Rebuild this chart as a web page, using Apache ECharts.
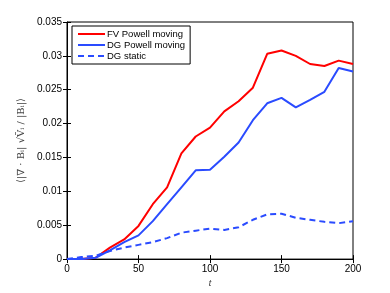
<!DOCTYPE html>
<html><head><meta charset="utf-8">
<script src="https://cdn.jsdelivr.net/npm/echarts@6/dist/echarts.min.js"></script>
<style>html,body{margin:0;padding:0;background:#fff}#c{width:390px;height:293px}</style>
</head><body><div id="c"></div>
<script>
const tValues = [0,10,20,30,40,50,60,70,80,90,100,110,120,130,140,150,160,170,180,190,200];
const fvPowellMoving = [0,0,0.0002,0.0017,0.0029,0.0049,0.0081,0.0106,0.0156,0.0181,0.0194,0.0218,0.0233,0.0253,0.0303,0.0308,0.0300,0.0288,0.0285,0.0293,0.0288];
const dgPowellMoving = [0,0,0.0002,0.0013,0.0025,0.0035,0.0056,0.0081,0.0106,0.0131,0.0132,0.0151,0.0172,0.0205,0.0230,0.0238,0.0224,0.0235,0.0247,0.0282,0.0277];
const dgStatic = [0,0.0003,0.0005,0.0012,0.0017,0.0021,0.0025,0.0031,0.0039,0.0042,0.0045,0.0043,0.0047,0.0058,0.0066,0.0067,0.0061,0.0058,0.0055,0.0053,0.0056];
const seriesNames = ['FV Powell moving','DG Powell moving','DG static'];
const xTicks = [0,50,100,150,200];
const yTicks = [0,0.005,0.01,0.015,0.02,0.025,0.03,0.035];

const pair = arr => tValues.map((t,i)=>[t,arr[i]]);
const font = 'Liberation Sans, Arial, sans-serif';
const chart = echarts.init(document.getElementById('c'));
const tickStyle = {show:true, inside:true, length:4, lineStyle:{color:'#000'}};
chart.setOption({
  animation:false,
  grid:{left:67, top:22, right:37, bottom:33, show:true, borderColor:'#000', borderWidth:1},
  legend:{
    data:seriesNames, orient:'vertical', left:72, top:26,
    itemWidth:27, itemHeight:10, itemGap:1,
    itemStyle:{opacity:0},
    padding:[3,5,3,5], borderColor:'#000', borderWidth:1, backgroundColor:'#fff',
    textStyle:{fontFamily:font, fontSize:9.5, color:'#000', padding:[0,0,0,-3]}
  },
  xAxis:[{
    type:'value', min:0, max:200, interval:50,
    axisLine:{lineStyle:{color:'#000'}}, axisTick:tickStyle, splitLine:{show:false},
    axisLabel:{fontFamily:font, fontSize:10, color:'#000', margin:5},
    name:'t', nameLocation:'middle', nameGap:13,
    nameTextStyle:{fontFamily:font, fontStyle:'italic', fontSize:9, color:'#333'}
  },{
    type:'value', min:0, max:200, interval:50, position:'top',
    axisLine:{show:false}, axisTick:tickStyle, axisLabel:{show:false}, splitLine:{show:false}
  }],
  yAxis:[{
    type:'value', min:0, max:0.035, interval:0.005,
    axisLine:{show:true, lineStyle:{color:'#000'}}, axisTick:tickStyle, splitLine:{show:false},
    axisLabel:{fontFamily:font, fontSize:10, color:'#000', margin:5},
    name:'⟨|∇ · Bᵢ| √V̄ᵢ / |Bᵢ|⟩', nameLocation:'middle', nameGap:31, nameRotate:90,
    nameTextStyle:{fontFamily:'DejaVu Serif, serif', fontSize:10, color:'#444'}
  },{
    type:'value', min:0, max:0.035, interval:0.005, position:'right',
    axisLine:{show:false}, axisTick:tickStyle, axisLabel:{show:false}, splitLine:{show:false}
  }],
  series:[
    {name:seriesNames[0], type:'line', data:pair(fvPowellMoving), symbol:'none', lineStyle:{color:'#ff0000', width:2}, itemStyle:{color:'#ff0000'}},
    {name:seriesNames[1], type:'line', data:pair(dgPowellMoving), symbol:'none', lineStyle:{color:'#2a4bff', width:2}, itemStyle:{color:'#2a4bff'}},
    {name:seriesNames[2], type:'line', data:pair(dgStatic), symbol:'none', lineStyle:{color:'#2a4bff', width:2, type:[6,4]}, itemStyle:{color:'#2a4bff'}}
  ]
});
</script></body></html>
